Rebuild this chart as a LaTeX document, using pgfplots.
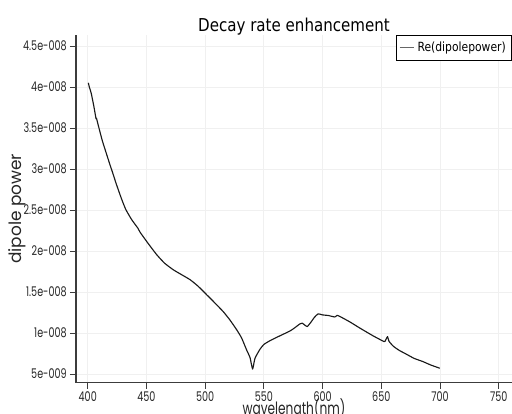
\documentclass[border=0pt]{standalone}
\usepackage{fontspec}
\setmainfont{DejaVu Sans}[FakeStretch=0.85]
\newfontfamily\tickfont{Poppins}[FakeStretch=0.72]
\newfontfamily\ylabfont{Poppins}
\usepackage{pgfplots}
\pgfplotsset{compat=1.18}
\definecolor{gridc}{RGB}{240,240,240}
\definecolor{axc}{RGB}{60,60,60}
\begin{document}
\begin{tikzpicture}[x=1pt,y=1pt]
\begin{axis}[
  scale only axis,
  width=327pt, height=260.8pt,
  xmin=390, xmax=761.3,
  ymin=3.94e-9, ymax=4.634e-8,
  scaled y ticks=false, scaled x ticks=false,
  axis x line*=bottom, axis y line*=left,
  axis line style={axc, line width=0.8pt},
  tick align=outside,
  major tick length=4.5pt,
  tick style={axc, line width=0.6pt},
  xtick={400,450,500,550,600,650,700,750},
  xticklabels={400,450,500,550,600,650,700,750},
  ytick={5e-9,1e-8,1.5e-8,2e-8,2.5e-8,3e-8,3.5e-8,4e-8,4.5e-8},
  yticklabels={5e-009,1e-008,1.5e-008,2e-008,2.5e-008,3e-008,3.5e-008,4e-008,4.5e-008},
  ticklabel style={font=\tickfont\fontsize{10}{11}\selectfont, text=black!85},
  yticklabel style={xshift=1pt},
  xticklabel style={yshift=1.5pt},
  grid=major,
  major grid style={gridc, line width=0.6pt},
  title={Decay rate enhancement},
  title style={font=\fontsize{13.3}{15}\selectfont, at={(axis description cs:0.5,1)}, anchor=center, yshift=0pt},
  xlabel={wavelength(nm)},
  xlabel style={font=\tickfont\fontsize{12.7}{14}\selectfont, text=black!85, at={(axis description cs:0.5,-0.076)}, anchor=center},
  ylabel={dipole power},
  ylabel style={font=\ylabfont\fontsize{12.7}{14}\selectfont, text=black!85, at={(axis description cs:-0.1353,0.5)}, anchor=center},
  legend style={at={(axis description cs:1,1)}, anchor=north east, xshift=-0.4pt,
     font=\fontsize{9.5}{11}\selectfont, draw=black, line width=0.6pt,
     inner xsep=2pt, inner ysep=3pt, row sep=0pt},
  legend cell align=left,
  legend image code/.code={\draw[#1] (0pt,0pt) -- (11pt,0pt);},
]
\addplot[black!90, line width=0.85pt, smooth, tension=0.3, line join=round, forget plot] coordinates {
(400.5,4.05e-8) (401.5,3.99e-8) (402,3.97e-8) (403,3.92e-8) (405,3.78e-8) (407.1,3.61e-8)
(407.4,3.62e-8) (409.9,3.48e-8) (412.5,3.34e-8) (415.6,3.20e-8) (418.5,3.07e-8)
(421.3,2.95e-8) (424,2.83e-8) (426.9,2.71e-8) (429.7,2.60e-8) (432.6,2.50e-8)
(437.5,2.38e-8) (442.6,2.28e-8) (444.5,2.23e-8) (451,2.10e-8) (458.7,1.955e-8)
(465.5,1.85e-8) (472.9,1.77e-8) (480,1.71e-8) (487.1,1.65e-8) (494,1.57e-8)
(501.3,1.466e-8) (508,1.37e-8) (515.4,1.26e-8) (521,1.16e-8) (526.8,1.04e-8)
(531,9.4e-9) (535.3,7.93e-9) (538.2,7.0e-9) (540.4,5.6e-9) (542.4,6.9e-9)
(546.6,8.0e-9) (550,8.6e-9) (555.1,9.05e-9) (563.6,9.65e-9) (572.1,1.023e-8)
(576,1.06e-8) (580.6,1.11e-8) (582.6,1.12e-8) (584.5,1.10e-8) (586.9,1.078e-8)
(590,1.13e-8) (593,1.19e-8) (596.2,1.233e-8) (600,1.22e-8) (604.8,1.213e-8)
(610.4,1.195e-8) (612.4,1.215e-8) (614.9,1.2e-8) (623.2,1.135e-8) (631.7,1.06e-8)
(643,9.65e-9) (652.4,8.95e-9) (653.6,9.1e-9) (655.3,9.56e-9) (656.5,9.0e-9)
(660.1,8.4e-9) (665,7.9e-9) (671.5,7.4e-9) (678,6.9e-9) (685.6,6.5e-9)
(692,6.1e-9) (699.8,5.7e-9)
};
\addlegendimage{black!60, line width=0.9pt}
\addlegendentry{Re(dipolepower)}
\end{axis}
\pgfresetboundingbox
\path (-57pt,-23.5pt) rectangle (327pt,287pt);
\end{tikzpicture}
\end{document}
